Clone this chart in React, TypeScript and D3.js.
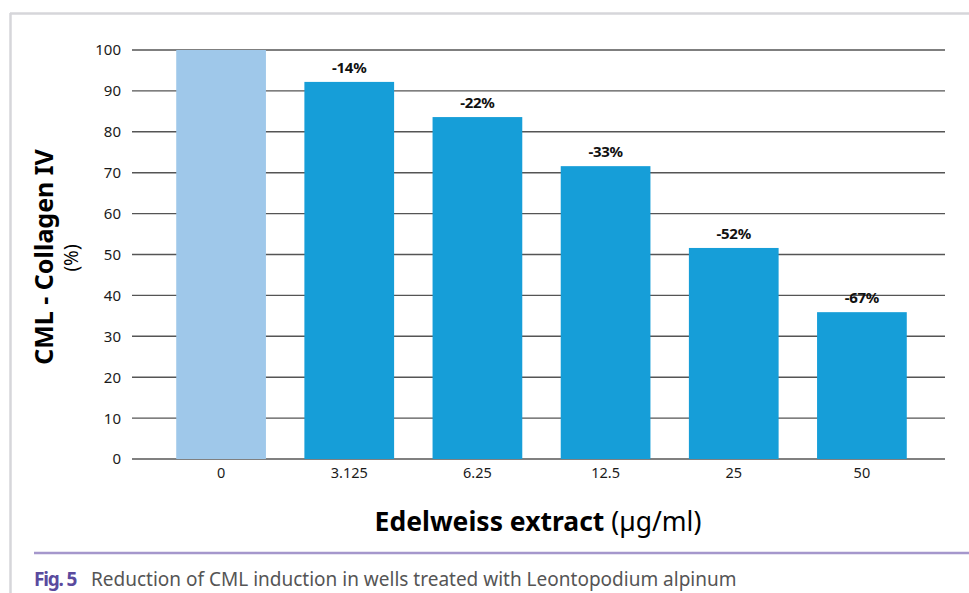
import React from "react";
import * as d3 from "d3";

const doses = ["0", "3.125", "6.25", "12.5", "25", "50"];
const cmlLevels = [100, 92.2, 83.6, 71.6, 51.6, 35.9];
const reductionLabels = ["", "-14%", "-22%", "-33%", "-52%", "-67%"];
const yTicks = [0, 10, 20, 30, 40, 50, 60, 70, 80, 90, 100];

const W = 969;
const H = 593;
const FONT = "'Noto Sans', 'Open Sans', sans-serif";

export default function App() {
  const x = d3
    .scaleBand<string>()
    .domain(doses)
    .range([157, 926])
    .paddingInner(0.3)
    .paddingOuter(0.15);
  const y = d3.scaleLinear().domain([0, 100]).range([459, 50]);

  return (
    <svg
      width={W}
      height={H}
      style={{ position: "absolute", left: 0, top: 0, background: "#fff" }}
      fontFamily={FONT}
    >
      {/* panel frame */}
      <line x1={10} x2={W} y1={13.5} y2={13.5} stroke="#d6d6da" strokeWidth={2.5} />
      <line x1={10.5} x2={10.5} y1={13} y2={H} stroke="#d6d6da" strokeWidth={2.5} />

      {/* gridlines and y tick labels */}
      {yTicks.map((t) => (
        <g key={t}>
          <line
            x1={132}
            x2={945}
            y1={y(t)}
            y2={y(t)}
            stroke={t === 0 ? "#808080" : "#555"}
            strokeWidth={t === 0 ? 2 : 1.4}
          />
          <text
            x={121}
            y={y(t)}
            dy="0.36em"
            textAnchor="end"
            fontSize={15}
            fill="#1a1a1a"
          >
            {t}
          </text>
        </g>
      ))}

      {/* bars */}
      {doses.map((d, i) => (
        <rect
          key={d}
          x={x(d)}
          y={y(cmlLevels[i])}
          width={x.bandwidth()}
          height={y(0) - y(cmlLevels[i])}
          fill={i === 0 ? "#9fc8ea" : "#169ed8"}
        />
      ))}

      {/* reduction labels */}
      {doses.map((d, i) =>
        reductionLabels[i] ? (
          <text
            key={"l" + d}
            x={(x(d) as number) + x.bandwidth() / 2}
            y={y(cmlLevels[i]) - 9}
            textAnchor="middle"
            fontSize={15}
            fontWeight="bold"
            fill="#111"
            letterSpacing={-0.3}
          >
            {reductionLabels[i]}
          </text>
        ) : null
      )}

      {/* x tick labels */}
      {doses.map((d) => (
        <text
          key={"x" + d}
          x={(x(d) as number) + x.bandwidth() / 2}
          y={478}
          textAnchor="middle"
          fontSize={14.5}
          fill="#1a1a1a"
        >
          {d}
        </text>
      ))}

      {/* x axis title */}
      <text x={538} y={531} textAnchor="middle" fontSize={26.5} fill="#000">
        <tspan fontWeight="bold">Edelweiss extract</tspan>
        <tspan> (µg/ml)</tspan>
      </text>

      {/* y axis title */}
      <text
        transform="translate(53,257) rotate(-90)"
        textAnchor="middle"
        fontSize={25}
        fontWeight="bold"
        fill="#000"
      >
        CML - Collagen IV
      </text>
      <text
        transform="translate(78,258) rotate(-90)"
        textAnchor="middle"
        fontSize={19}
        fill="#000"
      >
        (%)
      </text>

      {/* caption */}
      <line x1={34} x2={W} y1={553} y2={553} stroke="#a597cc" strokeWidth={2.5} />
      <text x={34} y={586} fontSize={19} fontWeight="bold" fill="#5a4a9e" letterSpacing={-1.2}>
        Fig. 5
      </text>
      <text x={91} y={586} fontSize={19} fill="#555">
        Reduction of CML induction in wells treated with Leontopodium alpinum
      </text>
    </svg>
  );
}
